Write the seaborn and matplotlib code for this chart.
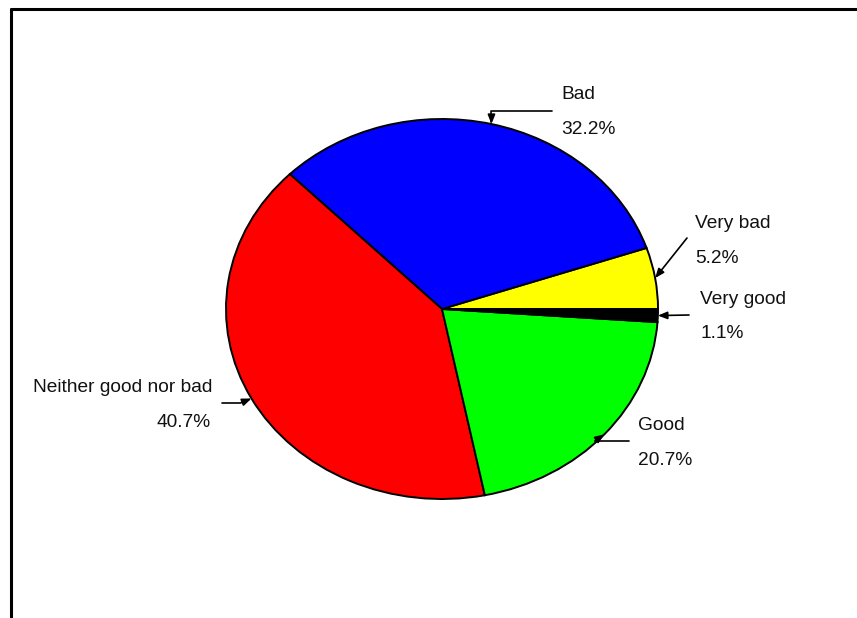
import numpy as np
import matplotlib
matplotlib.use("Agg")
import matplotlib.pyplot as plt
from matplotlib.lines import Line2D
import seaborn as sns

# Survey answers, listed counter-clockwise from the 3 o'clock position
categories = ["Very bad", "Bad", "Neither good nor bad", "Good", "Very good"]
shares = [5.2, 32.2, 40.7, 20.7, 1.1]
pct_labels = ["5.2%", "32.2%", "40.7%", "20.7%", "1.1%"]
slice_colors = ["#FFFF00", "#0000FF", "#FF0000", "#00FF00", "#000000"]

sns.set_theme(style="white")
plt.rcParams["font.family"] = ["Liberation Sans", "DejaVu Sans"]

W, H = 857, 618
fig = plt.figure(figsize=(W / 100, H / 100), dpi=100)
ax = fig.add_axes([0, 0, 1, 1])

# pie centre and radii in pixels (the pie is drawn as an ellipse)
CX, CY, RX, RY = 442, 309, 216, 190


def to_data(px, py):
    """Convert a pixel position (origin top-left) to data coordinates."""
    return (px - CX) / RX, (CY - py) / RY


wedges, _ = ax.pie(
    shares,
    colors=slice_colors,
    startangle=0,
    counterclock=True,
    radius=1.0,
    wedgeprops=dict(edgecolor="black", linewidth=1.4),
)
ax.set_aspect("auto")
x0, _ = to_data(0, 0)
x1, _ = to_data(W, 0)
_, y1 = to_data(0, 0)
_, y0 = to_data(0, H)
ax.set_xlim(x0, x1)
ax.set_ylim(y0, y1)
ax.axis("off")

# label layout: (name position, pct position, alignment, arrow start, connection)
layout = {
    "Very bad": ((695, 228), (695, 263), "left", (687, 238), "arc3,rad=0"),
    "Bad": ((561, 99), (561, 134), "left", (552, 111), "angle,angleA=0,angleB=90,rad=0"),
    "Neither good nor bad": ((212, 392), (211, 427), "right", (222, 403), "angle,angleA=0,angleB=22,rad=0"),
    "Good": ((638, 430), (638, 465), "left", (629, 441), "angle,angleA=0,angleB=35,rad=0"),
    "Very good": ((700, 304), (700, 338), "left", (689, 315), "arc3,rad=0"),
}

FS = 13.8
for wedge, name, pct in zip(wedges, categories, pct_labels):
    mid = np.deg2rad((wedge.theta1 + wedge.theta2) / 2.0)
    tip = (np.cos(mid), np.sin(mid))
    name_pos, pct_pos, ha, start, conn = layout[name]
    ax.text(*to_data(*name_pos), name, ha=ha, va="baseline", fontsize=FS, color="#111111")
    ax.text(*to_data(*pct_pos), pct, ha=ha, va="baseline", fontsize=FS, color="#111111")
    ax.annotate(
        "",
        xy=tip,
        xytext=to_data(*start),
        arrowprops=dict(
            arrowstyle="-|>,head_length=0.5,head_width=0.2",
            mutation_scale=11,
            color="black",
            lw=1.2,
            shrinkA=0,
            shrinkB=0,
            connectionstyle=conn,
        ),
    )

# outer frame (left and top edges)
fx = 10.5 / W
fy = 1 - 9.3 / H
fig.add_artist(Line2D([fx, fx], [fy, 0], transform=fig.transFigure, color="black", lw=2.2))
fig.add_artist(Line2D([fx, 1], [fy, fy], transform=fig.transFigure, color="black", lw=2.2))

fig.savefig("out.png", dpi=100)
